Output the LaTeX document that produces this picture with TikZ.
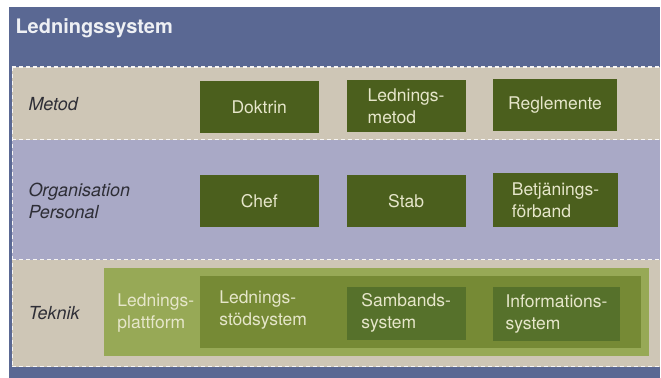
\documentclass[tikz,border=0pt]{standalone}
\usepackage{fontspec}
\setmainfont{TeX Gyre Heros}
\definecolor{slide}{HTML}{5A6893}
\definecolor{sand}{HTML}{CEC6B6}
\definecolor{lilac}{HTML}{A9A9C6}
\definecolor{olive}{HTML}{4B5F1D}
\definecolor{leaf}{HTML}{97A956}
\definecolor{moss}{HTML}{768A35}
\definecolor{fern}{HTML}{56712B}
\definecolor{cream}{HTML}{E6E6CA}
\definecolor{ink}{HTML}{2E2E36}
\begin{document}
\begin{tikzpicture}[x=1pt, y=-1pt,
        box/.style={fill=olive, text=cream, minimum width=119pt, minimum height=52pt,
            inner sep=0pt, align=left, font=\fontsize{17.5}{22}\selectfont},
        layer/.style={anchor=west, align=left, text=ink, font=\fontsize{18}{22}\selectfont\itshape},
        tech/.style={anchor=west, align=left, text=cream, font=\fontsize{17.5}{22}\selectfont},
        sep/.style={white!85!sand, line width=1.2pt, dash pattern=on 4pt off 3pt}]
    % slide and title
    \fill[white] (0,0) rectangle (661,378);
    \fill[slide] (9,7) rectangle (661,378);
    \node[anchor=base west, text=white!90!slide, font=\fontsize{20}{24}\selectfont\bfseries] (title) at (12,34) {Ledningssystem};

    % the three layers
    \fill[sand] (12,67) rectangle (661,140);
    \fill[lilac] (12,140) rectangle (661,260);
    \fill[sand] (12,260) rectangle (661,367);
    \foreach \y in {67,140,260,367}
        \draw[sep] (12,\y) -- (661,\y);
    \draw[sep, line width=0.6pt] (12,67) -- (12,367);

    \node[layer] (metod) at (25,104) {Metod};
    \node[layer] (org) at (25,201) {Organisation\\Personal};
    \node[layer] (teknik) at (25,313) {Teknik};

    % metod
    \node[box] (doktrin) at (259.5,107) {Doktrin};
    \node[box] (lmetod) at (406.5,106.5) {Lednings-\\metod};
    \node[box, minimum width=125pt] (reglemente) at (555.5,105) {Reglemente};

    % organisation
    \node[box] (chef) at (259.5,201) {Chef};
    \node[box] (stab) at (406.5,201) {Stab};
    \node[box, minimum width=126pt, minimum height=54pt] (forband) at (556,200) {Betjänings-\\förband};

    % teknik
    \fill[leaf] (104,268) rectangle (650,356);
    \fill[moss] (200,276) rectangle (642,348);
    \node[tech] (plattform) at (114,313) {Lednings-\\plattform};
    \node[tech] (stod) at (216,310) {Lednings-\\stödsystem};
    \node[box, fill=fern, minimum height=53pt] (samband) at (406.5,313.5) {Sambands-\\system};
    \node[box, fill=fern, minimum width=128pt, minimum height=54pt] (info) at (557,314) {Informations-\\system};
\end{tikzpicture}
\end{document}
